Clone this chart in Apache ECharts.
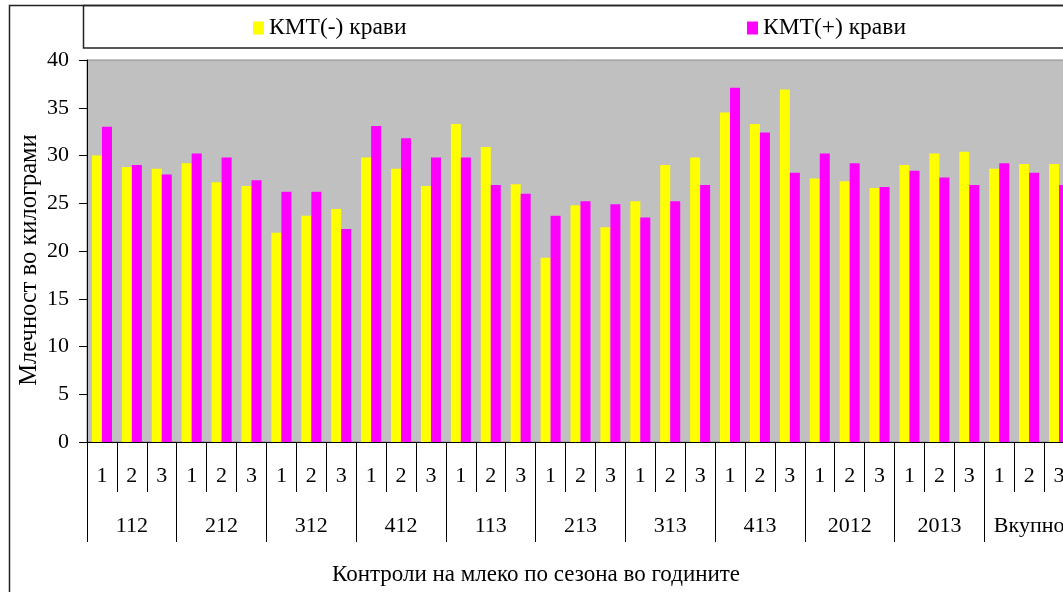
<!DOCTYPE html>
<html>
<head>
<meta charset="utf-8">
<script src="https://cdn.jsdelivr.net/npm/echarts@6/dist/echarts.min.js"></script>
<style>
  html, body { margin: 0; padding: 0; background: #fff; overflow: hidden; }
  #chart { width: 1063px; height: 592px; }
</style>
</head>
<body>
<div id="chart"></div>
<script>
// Control periods (season-year) and the three controls inside each period
const groups = ['112', '212', '312', '412', '113', '213', '313', '413', '2012', '2013', 'Вкупно'];
const controls = ['1', '2', '3'];

// Average milk yield (kg) per control
const kmtNeg = [30.0, 28.8, 28.6, 29.2, 27.2, 26.8, 21.9, 23.7, 24.4, 29.8, 28.6, 26.8,
                33.3, 30.9, 27.0, 19.3, 24.8, 22.5, 25.2, 29.0, 29.8, 34.5, 33.3, 36.9,
                27.6, 27.3, 26.6, 29.0, 30.2, 30.4, 28.6, 29.1, 29.1];
const kmtPos = [33.0, 29.0, 28.0, 30.2, 29.8, 27.4, 26.2, 26.2, 22.3, 33.1, 31.8, 29.8,
                29.8, 26.9, 26.0, 23.7, 25.2, 24.9, 23.5, 25.2, 26.9, 37.1, 32.4, 28.2,
                30.2, 29.2, 26.7, 28.4, 27.7, 26.9, 29.2, 28.2, 26.9];

const yTicks = { min: 0, max: 40, step: 5 };
const seriesNames = ['КМТ(-) крави', 'КМТ(+) крави'];
const yTitle = 'Млечност во килограми';
const xTitle = 'Контроли на млеко по сезона во годините';

const categories = [];
groups.forEach(g => controls.forEach(c => categories.push(g + '|' + c)));

const FONT = '"Liberation Serif", "Times New Roman", serif';
const FS = 22;          // tick labels
const FS_LEGEND = 23.5;
const FS_XTITLE = 23;
const FS_YTITLE = 24.5;

const chart = echarts.init(document.getElementById('chart'), null, { renderer: 'canvas' });

chart.setOption({
  animation: false,
  backgroundColor: '#ffffff',
  textStyle: { fontFamily: FONT, color: '#000' },
  grid: {
    left: 87, top: 60, width: 987, height: 382,
    containLabel: false, outerBoundsMode: 'none',
    show: true, backgroundColor: '#c0c0c0', borderColor: '#8c8c8c', borderWidth: 1
  },
  legend: [
    {
      data: [seriesNames[0]], left: 253, top: 16, padding: 0, icon: 'rect',
      itemWidth: 11, itemHeight: 13, itemGap: 5,
      textStyle: { fontFamily: FONT, fontSize: FS_LEGEND, color: '#000' }
    },
    {
      data: [seriesNames[1]], left: 747, top: 16, padding: 0, icon: 'rect',
      itemWidth: 11, itemHeight: 13, itemGap: 5,
      textStyle: { fontFamily: FONT, fontSize: FS_LEGEND, color: '#000' }
    }
  ],
  xAxis: [
    {
      type: 'category', data: categories, position: 'bottom',
      axisLine: { show: true, lineStyle: { color: '#000', width: 1 } },
      axisTick: { show: true, length: 50, interval: 0, lineStyle: { color: '#000', width: 1 } },
      axisLabel: {
        interval: 0, margin: 23, fontFamily: FONT, fontSize: FS, color: '#000',
        formatter: v => v.split('|')[1]
      },
      splitLine: { show: false }
    },
    {
      type: 'category', data: groups, position: 'bottom',
      axisLine: { show: false },
      axisTick: { show: true, length: 100, interval: 0, lineStyle: { color: '#000', width: 1 } },
      axisLabel: { interval: 0, margin: 73, fontFamily: FONT, fontSize: FS, color: '#000' },
      splitLine: { show: false }
    }
  ],
  yAxis: {
    type: 'value', min: yTicks.min, max: yTicks.max, interval: yTicks.step,
    axisLine: { show: true, lineStyle: { color: '#000', width: 1 } },
    axisTick: { show: true, length: 8, lineStyle: { color: '#000', width: 1 } },
    axisLabel: { margin: 18, fontFamily: FONT, fontSize: FS, color: '#000' },
    splitLine: { show: false }
  },
  series: [
    {
      name: seriesNames[0], type: 'bar', data: kmtNeg, xAxisIndex: 0,
      barWidth: 10, barGap: '0%',
      itemStyle: { color: '#ffff00' }
    },
    {
      name: seriesNames[1], type: 'bar', data: kmtPos, xAxisIndex: 0,
      barWidth: 10, barGap: '0%',
      itemStyle: { color: '#ff00ff' }
    }
  ],
  graphic: [
    // outer chart frame
    {
      type: 'rect', z: 0, silent: true,
      shape: { x: 9.5, y: 5.5, width: 1200, height: 700 },
      style: { fill: 'none', stroke: '#222', lineWidth: 1.5 }
    },
    // legend box
    {
      type: 'rect', z: 1, silent: true,
      shape: { x: 83.5, y: 5.5, width: 1100, height: 42.5 },
      style: { fill: 'none', stroke: '#222', lineWidth: 1.5 }
    },
    // value axis title
    {
      type: 'text', silent: true,
      x: 30, y: 260, rotation: Math.PI / 2,
      style: {
        text: yTitle, font: FS_YTITLE + 'px ' + FONT, fill: '#000',
        textAlign: 'center', textVerticalAlign: 'middle'
      }
    },
    // category axis title
    {
      type: 'text', silent: true,
      x: 536, y: 575,
      style: {
        text: xTitle, font: FS_XTITLE + 'px ' + FONT, fill: '#000',
        textAlign: 'center', textVerticalAlign: 'middle'
      }
    }
  ]
});
</script>
</body>
</html>
